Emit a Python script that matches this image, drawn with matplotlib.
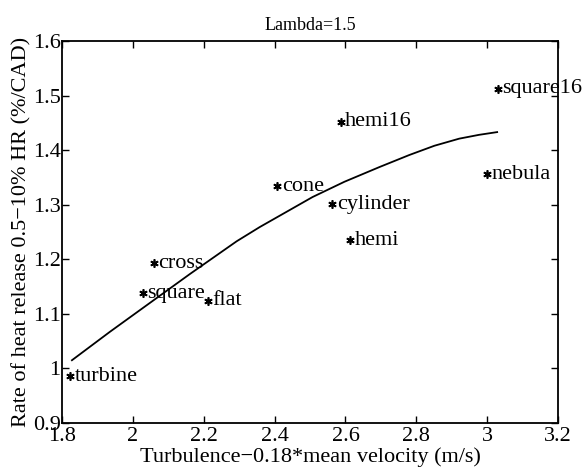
from matplotlib import pyplot as plt

plt.rcParams['font.family'] = ['Liberation Serif', 'DejaVu Serif']

# measured points (turbulence vs rate of heat release)
names = ['turbine', 'square', 'cross', 'flat', 'cone', 'cylinder',
         'hemi', 'hemi16', 'square16', 'nebula']
turb = [1.823, 2.028, 2.059, 2.211, 2.408, 2.563, 2.614, 2.586, 3.031, 3.000]
rhr = [0.986, 1.138, 1.193, 1.124, 1.334, 1.301, 1.235, 1.452, 1.512, 1.356]

# fitted curve
fit_x = [1.828, 1.935, 2.048, 2.161, 2.293, 2.358, 2.442, 2.507, 2.597,
         2.696, 2.780, 2.851, 2.921, 2.977, 3.028]
fit_y = [1.015, 1.067, 1.120, 1.173, 1.233, 1.259, 1.290, 1.314, 1.342,
         1.369, 1.391, 1.408, 1.421, 1.428, 1.433]

xticks = [1.8, 2.0, 2.2, 2.4, 2.6, 2.8, 3.0, 3.2]
xticklabels = ['1.8', '2', '2.2', '2.4', '2.6', '2.8', '3', '3.2']
yticks = [0.9, 1.0, 1.1, 1.2, 1.3, 1.4, 1.5, 1.6]
yticklabels = ['0.9', '1', '1.1', '1.2', '1.3', '1.4', '1.5', '1.6']

fig = plt.figure(figsize=(5.85, 4.74), dpi=100)
ax = fig.add_axes([0.106, 0.1076, 0.848, 0.806])

ax.plot(fit_x, fit_y, 'k-', lw=1.3)
ax.plot(turb, rhr, 'k', marker=(6, 2, 0), ms=6, mew=1.2, ls='none')
for nm, x, y in zip(names, turb, rhr):
    ax.text(x + 0.012, y, nm, fontsize=16, va='center', ha='left',
            clip_on=False)

ax.set_xlim(1.8, 3.2)
ax.set_ylim(0.9, 1.6)
ax.set_xticks(xticks)
ax.set_xticklabels(xticklabels)
ax.set_yticks(yticks)
ax.set_yticklabels(yticklabels)
ax.tick_params(direction='in', top=True, right=True, labelsize=16,
               length=5, width=1, pad=1)
ax.tick_params(axis='x', pad=3)
for s in ax.spines.values():
    s.set_linewidth(1.3)

ax.set_xlabel('Turbulence\u22120.18*mean velocity (m/s)', fontsize=16,
              labelpad=1)
ax.set_ylabel('Rate of heat release 0.5\u221210% HR (%/CAD)', fontsize=16,
              labelpad=1)
ax.set_title('Lambda=1.5', fontsize=13, pad=8)

fig.savefig('out.png', dpi=100)
